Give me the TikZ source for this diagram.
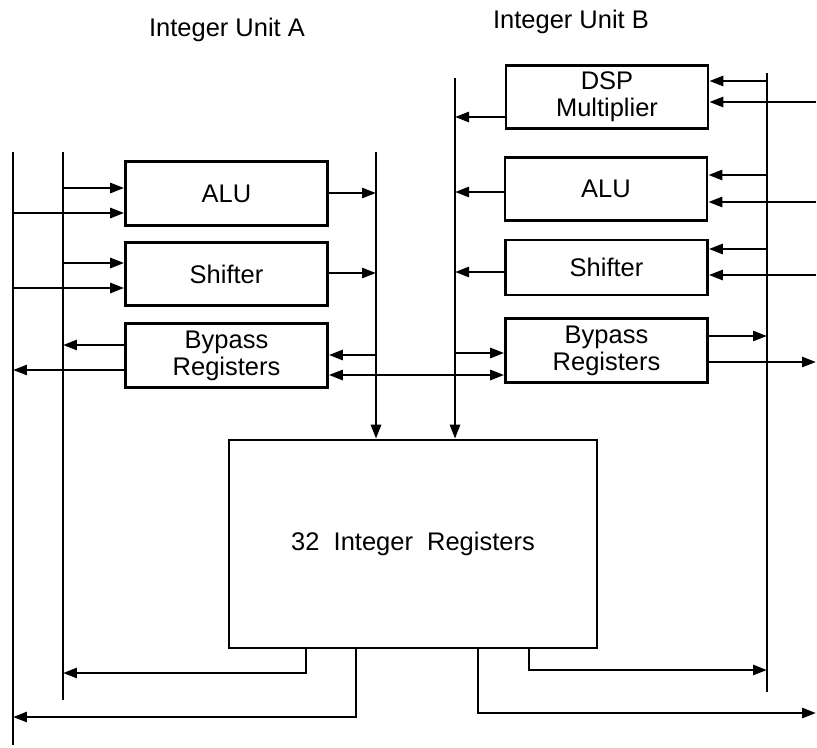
\documentclass[tikz,border=0pt]{standalone}
\usepackage{fontspec}
\setmainfont{Liberation Sans}
\usetikzlibrary{arrows.meta}

\begin{document}
\begin{tikzpicture}[
  x=0.02cm, y=-0.02cm, line width=1.5pt,  unit/.style={draw,inner sep=0pt,minimum width=4.04cm,minimum height=1.27cm,align=center,font=\fontsize{14.5}{15.5}\selectfont},  regfile/.style={draw,inner sep=0pt,minimum width=7.36cm,minimum height=4.16cm,font=\fontsize{14.5}{16}\selectfont},  title/.style={font=\fontsize{14.5}{16}\selectfont},  arr/.style={-{Triangle[length=2.8mm,width=2mm]}},  darr/.style={{Triangle[length=2.8mm,width=2mm]}-{Triangle[length=2.8mm,width=2mm]}}
]
  \useasboundingbox (0,0) rectangle (817,747);
  \node[title] (ta) at (227,30) {Integer Unit A};
  \node[title] (tb) at (571,22) {Integer Unit B};
  \node[unit] (aluA) at (226.5,193.5) {ALU};
  \node[unit] (shfA) at (226.5,274) {Shifter};
  \node[unit] (bypA) at (226.5,355.5) {Bypass\\Registers};
  \node[unit] (dspB) at (607,97) {DSP\\Multiplier};
  \node[unit] (aluB) at (606,189) {ALU};
  \node[unit,minimum height=1.1cm] (shfB) at (606.5,267.5) {Shifter};
  \node[unit] (bypB) at (606.5,350.5) {Bypass\\Registers};
  \node[regfile] (regs) at (413,544) {32\ \ Integer\ \ Registers};
  \coordinate (l1t) at (13,152);
  \coordinate (l1b) at (13,745);
  \coordinate (l2t) at (63,152);
  \coordinate (l2b) at (63,700);
  \coordinate (l3t) at (376,152);
  \coordinate (r1t) at (455,78);
  \coordinate (r2t) at (767,73);
  \coordinate (r2b) at (767,692);
  \coordinate (edge) at (816,0);
  \draw (l1t) -- (l1b);
  \draw (l2t) -- (l2b);
  \draw[arr] (l3t) -- (l3t |- regs.north);
  \draw[arr] (r1t) -- (r1t |- regs.north);
  \draw (r2t) -- (r2b);
  \draw[arr] (l2t |- 0,188) -- (aluA.west |- 0,188);
  \draw[arr] (l1t |- 0,213) -- (aluA.west |- 0,213);
  \draw[arr] (aluA.east |- 0,193) -- (l3t |- 0,193);
  \draw[arr] (l2t |- 0,263) -- (shfA.west |- 0,263);
  \draw[arr] (l1t |- 0,288) -- (shfA.west |- 0,288);
  \draw[arr] (shfA.east |- 0,273) -- (l3t |- 0,273);
  \draw[arr] (bypA.west |- 0,345) -- (l2t |- 0,345);
  \draw[arr] (bypA.west |- 0,370) -- (l1t |- 0,370);
  \draw[arr] (l3t |- 0,355) -- (bypA.east |- 0,355);
  \draw[darr] (bypA.east |- 0,375) -- (bypB.west |- 0,375);
  \draw[arr] (dspB.west |- 0,117) -- (r1t |- 0,117);
  \draw[arr] (r2t |- 0,81) -- (dspB.east |- 0,81);
  \draw[arr] (edge |- 0,102) -- (dspB.east |- 0,102);
  \draw[arr] (aluB.west |- 0,192) -- (r1t |- 0,192);
  \draw[arr] (r2t |- 0,175) -- (aluB.east |- 0,175);
  \draw[arr] (edge |- 0,202) -- (aluB.east |- 0,202);
  \draw[arr] (shfB.west |- 0,272) -- (r1t |- 0,272);
  \draw[arr] (r2t |- 0,249) -- (shfB.east |- 0,249);
  \draw[arr] (edge |- 0,275) -- (shfB.east |- 0,275);
  \draw[arr] (r1t |- 0,353) -- (bypB.west |- 0,353);
  \draw[arr] (bypB.east |- 0,336) -- (r2t |- 0,336);
  \draw[arr] (bypB.east |- 0,362) -- (edge |- 0,362);
  \draw[arr] (regs.south -| 306,0) |- (l2t |- 0,673);
  \draw[arr] (regs.south -| 356,0) |- (l1t |- 0,717);
  \draw[arr] (regs.south -| 478,0) |- (edge |- 0,713);
  \draw[arr] (regs.south -| 529,0) |- (r2t |- 0,670);
\end{tikzpicture}
\end{document}
